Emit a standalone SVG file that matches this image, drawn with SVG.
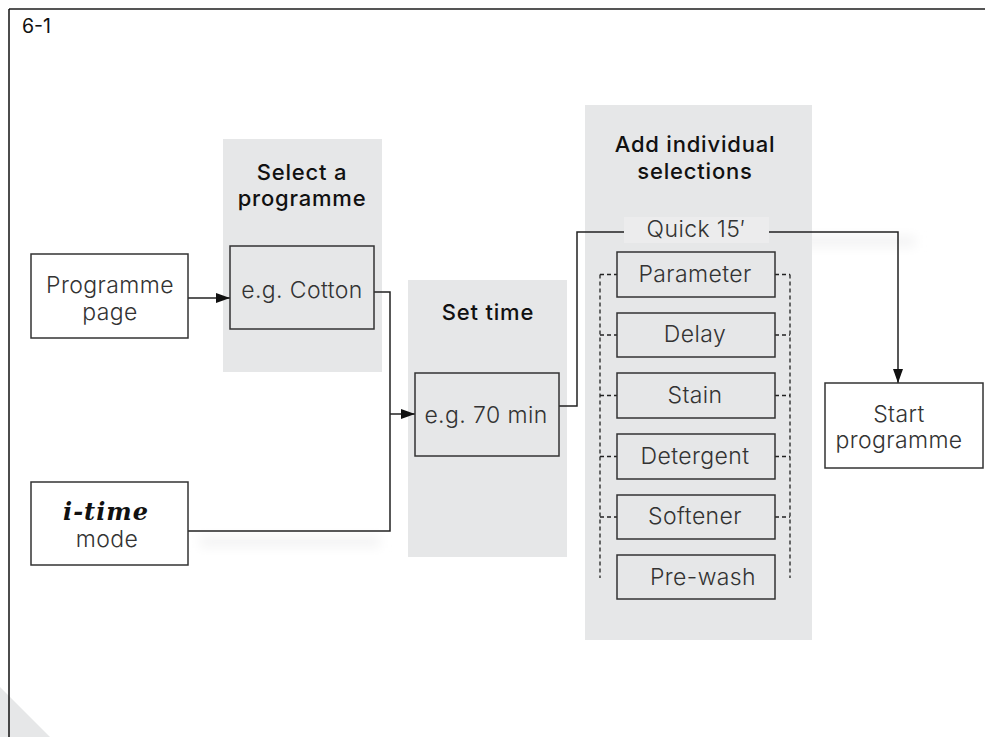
<svg xmlns="http://www.w3.org/2000/svg" width="985" height="737" viewBox="0 0 985 737">
  <defs>
    <marker id="ah" viewBox="0 0 14 10" refX="14" refY="5" markerWidth="14" markerHeight="10" markerUnits="userSpaceOnUse" orient="auto">
      <path d="M0,0 L14,5 L0,10 z" fill="#111"/>
    </marker>
    <filter id="soft" x="-20%" y="-100%" width="140%" height="300%">
      <feGaussianBlur stdDeviation="6"/>
    </filter>
    <style>
      .panel { fill: #e6e7e8; }
      .box { fill: none; stroke: #333; stroke-width: 1.5; }
      .wbox { fill: #fff; stroke: #333; stroke-width: 1.5; }
      .title { font-family: Inter, "Liberation Sans", sans-serif; font-size: 22px; font-weight: 500; letter-spacing: 0.8px; fill: #111; text-anchor: middle; }
      .lbl { font-family: Inter, "Liberation Sans", sans-serif; font-size: 23px; font-weight: 300; letter-spacing: 0.4px; fill: #333; text-anchor: middle; }
      .conn { fill: none; stroke: #222; stroke-width: 1.5; }
      .dash { fill: none; stroke: #222; stroke-width: 1.3; stroke-dasharray: 4 3; }
      .shadow { fill: #f0f0f1; filter: url(#soft); }
    </style>
  </defs>
  <rect width="985" height="737" fill="#fff"/>
  <polygon points="0,687 50,737 0,737" fill="#e6e7e8"/>
  <g id="shadows">
    <rect class="shadow" x="200" y="537" width="180" height="9"/>
    <rect class="shadow" x="775" y="237" width="140" height="9"/>
  </g>
  <g id="frame">
    <line x1="9" y1="9" x2="985" y2="9" stroke="#555" stroke-width="2"/>
    <line x1="9" y1="9" x2="9" y2="737" stroke="#111" stroke-width="1.5"/>
    <text x="22" y="33" font-family="Inter, 'Liberation Sans', sans-serif" font-size="19.5" fill="#111">6-1</text>
  </g>

  <g id="panel-select">
    <rect class="panel" x="223" y="139" width="159" height="233"/>
    <text class="title" x="302" y="180">Select a</text>
    <text class="title" x="302" y="206">programme</text>
  </g>
  <g id="panel-settime">
    <rect class="panel" x="408" y="280" width="159" height="277"/>
    <text class="title" x="488" y="320">Set time</text>
  </g>
  <g id="panel-add">
    <rect class="panel" x="585" y="105" width="227" height="535"/>
    <text class="title" x="695" y="152">Add individual</text>
    <text class="title" x="695" y="179">selections</text>
  </g>

  <g id="connectors">
    <path class="conn" d="M188,298 H230" marker-end="url(#ah)"/>
    <path class="conn" d="M374,292 H390 V531 H188"/>
    <path class="conn" d="M390,414 H415" marker-end="url(#ah)"/>
    <path class="conn" d="M559,406 H577 V232 H624"/>
    <path class="conn" d="M769,232 H898 V383" marker-end="url(#ah)"/>
    <path class="dash" d="M600,274.5 V578 M790,274.5 V578"/>
    <path class="dash" d="M600,274.5 H617 M600,335 H617 M600,395.5 H617 M600,456.5 H617 M600,517 H617"/>
    <path class="dash" d="M775,274.5 H790 M775,335 H790 M775,395.5 H790 M775,456.5 H790 M775,517 H790"/>
  </g>

  <g id="node-programme-page">
    <rect class="wbox" x="31" y="254" width="157" height="84"/>
    <text class="lbl" x="110" y="293">Programme</text>
    <text class="lbl" x="110" y="320">page</text>
  </g>
  <g id="node-cotton">
    <rect class="box" x="230" y="246" width="144" height="83"/>
    <text class="lbl" x="302" y="298">e.g. Cotton</text>
  </g>
  <g id="node-itime">
    <rect class="wbox" x="31" y="482" width="157" height="83"/>
    <text x="106" y="520" font-family="'DejaVu Serif', 'Liberation Serif', serif" font-size="24" font-weight="bold" font-style="italic" letter-spacing="1" fill="#111" text-anchor="middle">i-time</text>
    <text class="lbl" x="107" y="547">mode</text>
  </g>
  <g id="node-70min">
    <rect class="box" x="415" y="373" width="144" height="83"/>
    <text class="lbl" x="486" y="423">e.g. 70 min</text>
  </g>
  <g id="node-quick">
    <rect x="624" y="217" width="145" height="26" fill="#ececed"/>
    <text class="lbl" x="696" y="237">Quick 15′</text>
  </g>
  <g id="node-parameter">
    <rect class="box" x="617" y="252" width="158" height="45"/>
    <text class="lbl" x="695" y="282">Parameter</text>
  </g>
  <g id="node-delay">
    <rect class="box" x="617" y="313" width="158" height="44"/>
    <text class="lbl" x="695" y="342">Delay</text>
  </g>
  <g id="node-stain">
    <rect class="box" x="617" y="373" width="158" height="45"/>
    <text class="lbl" x="695" y="403">Stain</text>
  </g>
  <g id="node-detergent">
    <rect class="box" x="617" y="434" width="158" height="45"/>
    <text class="lbl" x="695" y="464">Detergent</text>
  </g>
  <g id="node-softener">
    <rect class="box" x="617" y="495" width="158" height="44"/>
    <text class="lbl" x="695" y="524">Softener</text>
  </g>
  <g id="node-prewash">
    <rect class="box" x="617" y="555" width="158" height="44"/>
    <text class="lbl" x="703" y="585">Pre-wash</text>
  </g>
  <g id="node-start">
    <rect class="wbox" x="825" y="383" width="158" height="85"/>
    <text class="lbl" x="899" y="422">Start</text>
    <text class="lbl" x="899" y="448">programme</text>
  </g>
</svg>
